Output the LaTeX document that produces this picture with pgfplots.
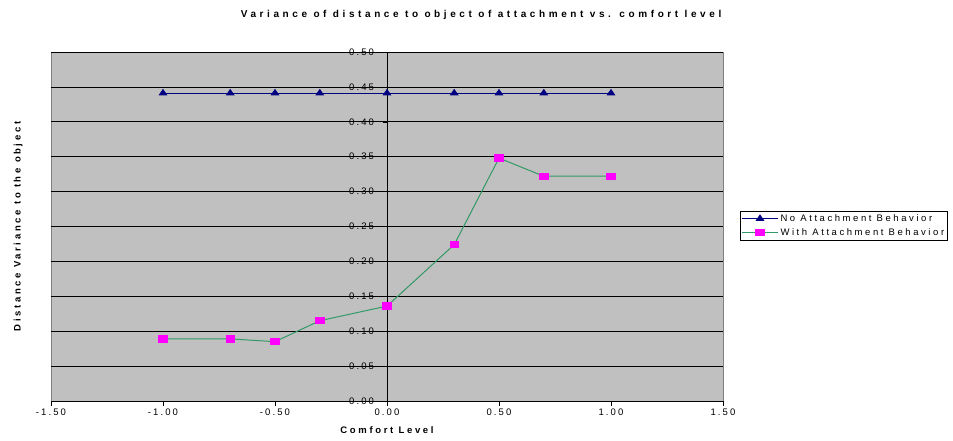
\documentclass[border=0pt]{standalone}
\usepackage{fontspec}
\setmainfont{Liberation Sans}
\newfontfamily\tickf{Liberation Sans}[LetterSpace=22]
\newfontfamily\titlef{Liberation Sans}[LetterSpace=36]
\newfontfamily\labf{Liberation Sans}[LetterSpace=28]
\newfontfamily\legf{Liberation Sans}[LetterSpace=27]
\usepackage{pgfplots}
\pgfplotsset{compat=1.18}
\definecolor{plotgray}{RGB}{192,192,192}
\definecolor{navyx}{RGB}{0,0,128}
\definecolor{seag}{RGB}{51,153,102}
\definecolor{magx}{RGB}{255,0,255}
\begin{document}
\begin{tikzpicture}
\path[use as bounding box] (-51pt,-39pt) rectangle (902pt,401pt);
\begin{axis}[
  scale only axis,
  width=672pt, height=349pt,
  xmin=-1.5, xmax=1.5, ymin=0, ymax=0.5,
  xtick={-1.5,-1,-0.5,0,0.5,1,1.5},
  ytick={0,0.05,...,0.5},
  axis x line=bottom, axis y line=middle,
  axis line style={-, black, line width=0.8pt},
  hide obscured x ticks=false, hide obscured y ticks=false,
  axis background/.style={fill=plotgray, draw=gray},
  ymajorgrids, major grid style={black, line width=0.7pt},
  tick style={black, line width=0.6pt},
  major tick length=4.5pt,
  xtick align=outside, ytick align=outside,
  /pgf/number format/assume math mode=true,
  xticklabel style={/pgf/number format/.cd, fixed, fixed zerofill, precision=2},
  yticklabel style={/pgf/number format/.cd, fixed, fixed zerofill, precision=2, /tikz/xshift=-5pt},
  ticklabel style={font=\tickf\fontsize{9.5}{11}\selectfont},
  xlabel={Comfort Level},
  ylabel={Distance Variance to the object},
  every axis x label/.style={at={(rel axis cs:0.5,0)}, anchor=center, yshift=-29pt, font=\labf\fontsize{9.5}{11}\selectfont\bfseries},
  every axis y label/.style={at={(rel axis cs:-0.049,0.5)}, anchor=center, rotate=90, font=\labf\fontsize{9.5}{11}\selectfont\bfseries},
  legend style={at={(rel axis cs:1.025,0.545)}, anchor=north west, draw=black, fill=white, font=\legf\fontsize{9.5}{11}\selectfont, inner sep=1.5pt, row sep=1.5pt, cells={anchor=west}},
  legend image code/.code={\draw[#1] (0cm,0cm) -- (36pt,0cm); \draw[#1, only marks] plot coordinates {(18pt,0cm)};},
  clip=false,
]
\addplot[navyx, line width=0.9pt, mark=triangle*, mark size=4.2pt, mark options={navyx, solid, yscale=0.85}] coordinates {
(-1.0,0.441) (-0.7,0.441) (-0.5,0.441) (-0.3,0.441) (0.0,0.441) (0.3,0.441) (0.5,0.441) (0.7,0.441) (1.0,0.441)};
\addlegendentry{No Attachment Behavior}
\addplot[seag, line width=1pt, mark=square*, mark size=4.2pt, mark options={magx, draw=magx, solid, yscale=0.75}] coordinates {
(-1.0,0.089) (-0.7,0.089) (-0.5,0.085) (-0.3,0.115) (0.0,0.136) (0.3,0.224) (0.5,0.348) (0.7,0.322) (1.0,0.322)};
\addlegendentry{With Attachment Behavior}
\node[font=\titlef\fontsize{10}{12}\selectfont\bfseries, anchor=center] at ([yshift=37pt]rel axis cs:0.64,1) {Variance of distance to object of attachment vs. comfort level};
\end{axis}
\end{tikzpicture}
\end{document}
